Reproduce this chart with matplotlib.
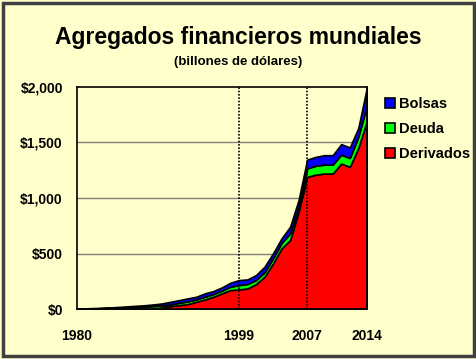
import numpy as np
import matplotlib
matplotlib.use("Agg")
import matplotlib.pyplot as plt
from matplotlib.patches import Rectangle

plt.rcParams['font.family'] = ['Liberation Sans', 'DejaVu Sans']
plt.rcParams['font.weight'] = 'bold'

years = list(range(1980, 2015))

# stacked tops (billones de dolares)
derivados = [0, 0, 0, 0, 0, 0, 0, 0, 0, 5, 15, 27, 36, 45, 66, 87, 111, 141, 171, 177,
             186, 225, 291, 411, 546, 621, 876, 1190, 1210, 1220, 1220, 1310, 1280, 1450, 1690]
deuda_top = [3, 4, 6, 8, 10, 13, 16, 19, 23, 27, 33, 42, 57, 69, 87, 111, 135, 165, 201, 216,
             226, 261, 331, 456, 594, 681, 921, 1266, 1290, 1300, 1300, 1390, 1360, 1550, 1830]
bolsas_top = [5, 7, 9, 12, 15, 20, 25, 30, 35, 42, 51, 66, 81, 96, 111, 141, 162, 195, 237, 261,
              267, 306, 381, 501, 636, 741, 981, 1345, 1370, 1385, 1385, 1485, 1455, 1630, 1990]

deuda = np.array(deuda_top) - np.array(derivados)
bolsas = np.array(bolsas_top) - np.array(deuda_top)

bg = '#FFFFCC'
fig = plt.figure(figsize=(4.77, 3.59), dpi=100, facecolor=bg)
ax = fig.add_axes([0.161, 0.139, 0.608, 0.619])
ax.set_facecolor(bg)

ax.stackplot(years, derivados, deuda, bolsas,
             colors=['#FF0000', '#00FF00', '#0000FF'],
             labels=['Derivados', 'Deuda', 'Bolsas'],
             edgecolor='black', linewidth=1.2, zorder=3)

ax.set_xlim(1980, 2014)
ax.set_ylim(0, 2000)
ax.set_yticks([0, 500, 1000, 1500, 2000])
ax.set_yticklabels(['$0', '$500', '$1,000', '$1,500', '$2,000'])
ax.set_xticks([1980, 1999, 2007, 2014])
ax.tick_params(axis='both', length=0, labelsize=10)
ax.tick_params(axis='x', pad=14)
ax.tick_params(axis='y', pad=10)
for y in [500, 1000, 1500]:
    ax.axhline(y, color='#808080', linewidth=1.0, zorder=1)
for x in [1999, 2007]:
    ax.axvline(x, color='black', linestyle=(0, (1, 1)), linewidth=1.2, zorder=4)
for s in ax.spines.values():
    s.set_linewidth(1.2)
    s.set_zorder(5)

h, l = ax.get_legend_handles_labels()
leg = fig.legend(h[::-1], l[::-1], loc='upper left', bbox_to_anchor=(0.795, 0.745),
                 frameon=False, fontsize=10.5, handlelength=0.7, handleheight=0.7,
                 handletextpad=0.25, labelspacing=0.75, borderaxespad=0)

fig.text(0.5, 0.895, 'Agregados financieros mundiales', ha='center', va='center',
         fontsize=16.5, fontweight='bold')
fig.text(0.5, 0.828, '(billones de dólares)', ha='center', va='center',
         fontsize=9.5, fontweight='bold')

fig.patches.append(Rectangle((0.006, 0.008), 0.988, 0.984, transform=fig.transFigure,
                             fill=False, edgecolor='#404040', linewidth=2.5))

fig.savefig('out.png', dpi=100, facecolor=bg)
